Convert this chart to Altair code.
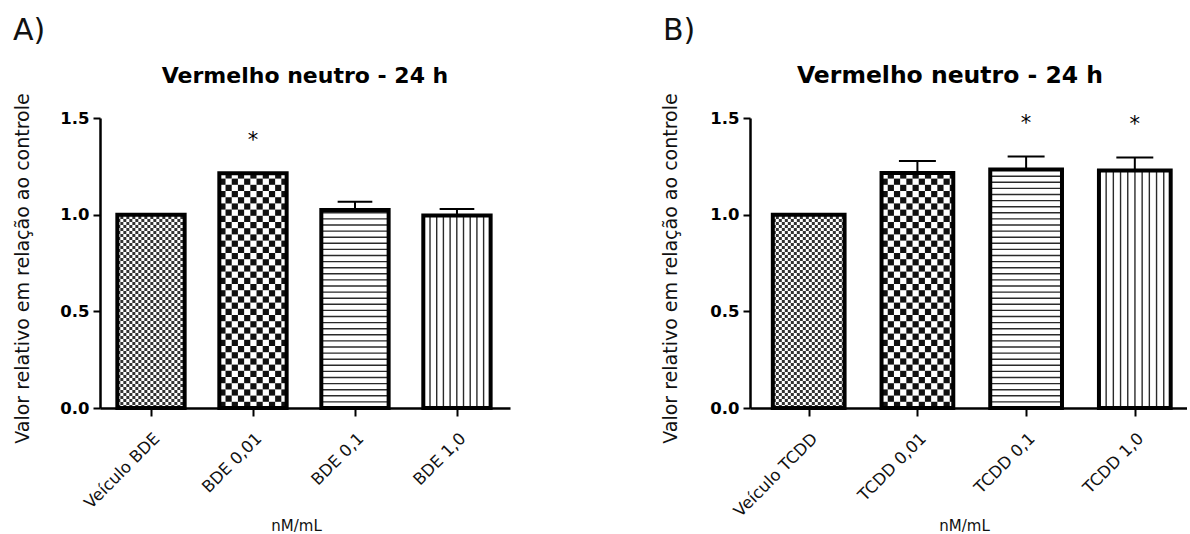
import json
import math

import altair as alt
import pandas as pd

# ---- values -------------------------------------------------------------
bde_labels = ["Veículo BDE", "BDE 0,01", "BDE 0,1", "BDE 1,0"]
bde_values = [1.0, 1.214, 1.024, 0.996]
bde_errors = [0.0, 0.0, 0.043, 0.033]
bde_marks = ["", "*", "", ""]

tcdd_labels = ["Veículo TCDD", "TCDD 0,01", "TCDD 0,1", "TCDD 1,0"]
tcdd_values = [1.0, 1.216, 1.234, 1.228]
tcdd_errors = [0.0, 0.061, 0.067, 0.068]
tcdd_marks = ["", "", "*", "*"]

# fill texture of each bar position, left to right
textures = ["fine", "checker", "hlines", "vlines"]

TITLE = "Vermelho neutro - 24 h"
Y_TITLE = "Valor relativo em relação ao controle"
X_TITLE = "nM/mL"

FONT = "DejaVu Sans"
PLOT_H = 290
Y_MAX = 1.5
PX_Y = PLOT_H / Y_MAX
HALF = 0.33          # half bar width, in x units
CAP = 0.17           # half width of the error cap, in x units


def texture_tables(values, px_x, line_gap_h, line_gap_v):
    """Checker cells and hatch lines that fill each bar."""
    cells, hlines, vlines = [], [], []
    for i, (v, kind) in enumerate(zip(values, textures)):
        c = i + 0.5
        left, right = c - HALF, c + HALF
        w_px = 2 * HALF * px_x
        h_px = v * PX_Y
        if kind in ("fine", "checker"):
            size = 3.0 if kind == "fine" else 6.2
            nx = math.ceil(w_px / size)
            ny = math.ceil(h_px / size)
            for a in range(nx):
                for b in range(ny):
                    if (a + b) % 2 == 0:
                        cells.append({
                            "x": left + a * size / px_x,
                            "x2": min(left + (a + 1) * size / px_x, right),
                            "y": b * size / PX_Y,
                            "y2": min((b + 1) * size / PX_Y, v),
                            "shade": kind,
                        })
        elif kind == "hlines":
            k = 1
            while k * line_gap_h < h_px - 1:
                hlines.append({"x": left, "x2": right, "y": k * line_gap_h / PX_Y})
                k += 1
        else:
            k = 1
            while k * line_gap_v < w_px - 1:
                vlines.append({"x": left + k * line_gap_v / px_x, "y": 0.0, "y2": v})
                k += 1
    return pd.DataFrame(cells), pd.DataFrame(hlines), pd.DataFrame(vlines)


def panel(labels, values, errors, marks, letter, width, x_domain,
          letter_x, title_x, title_size, ytitle_x, xtitle_x, line_gap_v):
    px_x = width / (x_domain[1] - x_domain[0])
    pos = [i + 0.5 for i in range(len(labels))]
    bars = pd.DataFrame({
        "pos": pos,
        "x": [p - HALF for p in pos],
        "x2": [p + HALF for p in pos],
        "value": values,
        "top": [v + e for v, e in zip(values, errors)],
        "err": errors,
        "cap_l": [p - CAP for p in pos],
        "cap_r": [p + CAP for p in pos],
        "mark": marks,
    })
    cells, hl, vl = texture_tables(values, px_x, 6.1, line_gap_v)

    xs = alt.Scale(domain=x_domain, nice=False, zero=False)
    ys = alt.Scale(domain=[0, Y_MAX], nice=False)
    label_expr = json.dumps(labels, ensure_ascii=False) + "[floor(datum.value)]"

    x_axis = alt.Axis(
        values=pos, labelExpr=label_expr, labelAngle=-45, labelAlign="right",
        labelBaseline="top", labelFont=FONT, labelFontSize=16.5,
        labelColor="#111111", labelPadding=14, labelOverlap=False,
        labelFlush=False, tickSize=8, tickWidth=2, tickColor="black",
        domainColor="black", domainWidth=2.5, grid=False,
        title=X_TITLE, titleFont=FONT, titleFontSize=15,
        titleFontWeight="normal", titleColor="#111111", titleX=xtitle_x,
        titleY=122, titleAlign="center", titleBaseline="alphabetic",
    )
    y_axis = alt.Axis(
        values=[0, 0.5, 1.0, 1.5], format=".1f", labelFont=FONT,
        labelFontSize=16.5, labelFontWeight="bold", labelColor="black",
        labelPadding=4, labelFlush=False, tickSize=7, tickWidth=2,
        tickColor="black", domainColor="black", domainWidth=2.5, grid=False,
        title=Y_TITLE, titleFont=FONT, titleFontSize=19,
        titleFontWeight="normal", titleColor="#111111", titleX=ytitle_x,
        titleY=PLOT_H / 2 + 5, titleAngle=270, titleAlign="center",
        titleBaseline="middle",
    )

    def X(field):
        return alt.X(field, scale=xs, axis=x_axis)

    def Y(field):
        return alt.Y(field, scale=ys, axis=y_axis)

    checker = alt.Chart(cells).mark_rect().encode(
        x=X("x:Q"), x2="x2:Q", y=Y("y:Q"), y2="y2:Q",
        color=alt.Color("shade:N", legend=None,
                        scale=alt.Scale(domain=["fine", "checker"],
                                        range=["#333333", "#111111"])),
    )
    hatch_h = alt.Chart(hl).mark_rule(color="#2a2a2a", strokeWidth=1.4).encode(
        x=X("x:Q"), x2="x2:Q", y=Y("y:Q"),
    )
    hatch_v = alt.Chart(vl).mark_rule(color="#2a2a2a", strokeWidth=1.4).encode(
        x=X("x:Q"), y=Y("y:Q"), y2="y2:Q",
    )
    outline = alt.Chart(bars).mark_rect(
        filled=False, color="black", strokeWidth=4, strokeJoin="miter"
    ).encode(
        x=X("x:Q"), x2="x2:Q", y=Y("value:Q"), y2=alt.datum(0),
    )
    with_err = bars[bars["err"] > 0]
    stem = alt.Chart(with_err).mark_rule(color="black", strokeWidth=2).encode(
        x=X("pos:Q"), y=Y("value:Q"), y2="top:Q",
    )
    cap = alt.Chart(with_err).mark_rule(color="black", strokeWidth=2).encode(
        x=X("cap_l:Q"), x2="cap_r:Q", y=Y("top:Q"),
    )
    stars = alt.Chart(bars[bars["mark"] != ""]).mark_text(
        font=FONT, fontSize=21, color="black", baseline="middle", dy=-32
    ).encode(
        x=X("pos:Q"), y=Y("top:Q"), text="mark:N",
    )
    letter_txt = alt.Chart(pd.DataFrame({"t": [letter]})).mark_text(
        font=FONT, fontSize=30, color="#111111", align="left",
        baseline="alphabetic"
    ).encode(x=alt.value(letter_x), y=alt.value(-78), text="t:N")
    title_txt = alt.Chart(pd.DataFrame({"t": [TITLE]})).mark_text(
        font=FONT, fontSize=title_size, fontWeight="bold", color="black",
        align="center", baseline="alphabetic"
    ).encode(x=alt.value(title_x), y=alt.value(-35), text="t:N")

    return alt.layer(
        checker, hatch_h, hatch_v, outline, stem, cap, stars,
        letter_txt, title_txt,
    ).properties(width=width, height=PLOT_H)


left_panel = panel(bde_labels, bde_values, bde_errors, bde_marks, "A)",
                   width=410, x_domain=[0.0, 4.02], letter_x=-87,
                   title_x=205, title_size=22, ytitle_x=-78, xtitle_x=196,
                   line_gap_v=6.7)
right_panel = panel(tcdd_labels, tcdd_values, tcdd_errors, tcdd_marks, "B)",
                    width=437, x_domain=[-0.04, 3.98], letter_x=-87,
                    title_x=200, title_size=23.5, ytitle_x=-80, xtitle_x=214,
                    line_gap_v=7.2)

chart = alt.hconcat(left_panel, right_panel, spacing=150).properties(
    padding={"left": 12, "top": 16, "right": 0, "bottom": 0},
    background="white",
).configure_view(stroke=None).configure_concat(spacing=150)

chart.save("out.html", embed_options={"renderer": "svg", "actions": False})
